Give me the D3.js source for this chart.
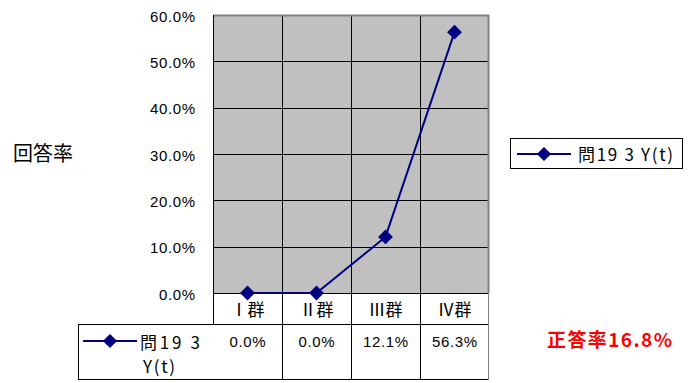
<!DOCTYPE html>
<html><head><meta charset="utf-8">
<script src="https://cdn.jsdelivr.net/npm/d3@7"></script>
<style>body{margin:0;background:#fff}svg{display:block}</style>
</head><body>
<svg id="c" width="698" height="383"></svg>
<script>
const categories = ["Ⅰ群","Ⅱ群","Ⅲ群","Ⅳ群"];
const values = [0.0, 0.0, 0.121, 0.563];
const valueLabels = ["0.0%","0.0%","12.1%","56.3%"];
const yTicks = [0,0.1,0.2,0.3,0.4,0.5,0.6];
const seriesName = "問19 3 Y(t)";
const tableSeriesLines = ["問19 3","Y(t)"];
const yTitle = "回答率";
const note = "正答率16.8%";

const svg = d3.select("#c");
const FONT = "'Liberation Sans','Noto Sans CJK JP',sans-serif";
const JFONT = "'Noto Sans CJK JP',sans-serif";
const L=213,R=489,T=15,B=293;
const x = d3.scaleBand().domain(categories).range([L,R]);
const y = d3.scaleLinear().domain([0,0.6]).range([B,T]);
const navy="#000080";
const fmt = d3.format(".1%");

// plot background
svg.append("rect").attr("x",L).attr("y",T).attr("width",R-L).attr("height",B-T).attr("fill","#c0c0c0");
// horizontal gridlines
svg.append("g").selectAll("line").data(yTicks.slice(1,-1)).join("line")
  .attr("x1",L).attr("x2",R).attr("y1",d=>Math.round(y(d))+0.5).attr("y2",d=>Math.round(y(d))+0.5)
  .attr("stroke","#000").attr("stroke-width",1);
// vertical gridlines (category boundaries) through plot and table
svg.append("g").selectAll("line").data(categories.slice(1)).join("line")
  .attr("x1",d=>Math.round(x(d))+0.5).attr("x2",d=>Math.round(x(d))+0.5)
  .attr("y1",T).attr("y2",380).attr("stroke","#000");
// plot border top/right gray
svg.append("path").attr("d",`M${L},${T+0.5}H${R-0.5}V${B}`).attr("fill","none").attr("stroke","#808080").attr("stroke-width",2);
// left axis line
svg.append("line").attr("x1",L+0.5).attr("x2",L+0.5).attr("y1",T).attr("y2",324).attr("stroke","#000");
// y axis labels
const yAxis = d3.axisLeft(y).tickValues(yTicks).tickFormat(fmt).tickSize(0).tickPadding(0);
const ga = svg.append("g").attr("transform",`translate(195,0)`).call(yAxis);
ga.select(".domain").remove();
ga.selectAll("text").attr("font-family",FONT).attr("font-size",15).attr("fill","#000")
  .attr("textLength",d=>fmt(d).length*9).attr("lengthAdjust","spacing").attr("dy","0.4em");
// y title
svg.append("text").attr("x",13).attr("y",161).attr("font-family",JFONT).attr("font-size",20).text(yTitle);

// table
const tb = svg.append("g").attr("stroke","#000").attr("fill","none");
tb.append("line").attr("x1",L).attr("x2",R).attr("y1",B+0.5).attr("y2",B+0.5);
tb.append("line").attr("x1",78).attr("x2",R).attr("y1",324.5).attr("y2",324.5);
tb.append("line").attr("x1",78).attr("x2",R).attr("y1",379.5).attr("y2",379.5);
tb.append("line").attr("x1",78.5).attr("x2",78.5).attr("y1",324).attr("y2",380);
tb.append("line").attr("x1",R-0.5).attr("x2",R-0.5).attr("y1",B).attr("y2",380).attr("stroke","#808080");
// header labels
svg.append("g").selectAll("text").data(categories).join("text")
  .attr("x",d=>x(d)+x.bandwidth()/2).attr("y",316).attr("text-anchor","middle")
  .attr("font-family",JFONT).attr("font-size",17).text(d=>d);
// values
svg.append("g").selectAll("text").data(valueLabels).join("text")
  .attr("x",(d,i)=>x(categories[i])+x.bandwidth()/2).attr("y",347).attr("text-anchor","middle")
  .attr("font-family",FONT).attr("font-size",15)
  .attr("textLength",d=>d.length*9).attr("lengthAdjust","spacing").text(d=>d);
// series key
function key(g,x0,x1,yy){
  g.append("line").attr("x1",x0).attr("x2",x1).attr("y1",yy).attr("y2",yy).attr("stroke",navy).attr("stroke-width",2);
  g.append("path").attr("d",d3.symbol().type(d3.symbolSquare).size(100)()).attr("transform",`translate(${(x0+x1)/2},${yy}) rotate(45)`).attr("fill",navy);
}
key(svg.append("g"),83,137,341);
svg.append("text").attr("x",140).attr("y",349).attr("font-family",JFONT).attr("font-size",17)
  .attr("textLength",60).attr("lengthAdjust","spacing").text(tableSeriesLines[0]);
svg.append("text").attr("x",143).attr("y",373).attr("font-family",JFONT).attr("font-size",17)
  .attr("textLength",32).attr("lengthAdjust","spacing").text(tableSeriesLines[1]);

// line series
const pts = categories.map((c,i)=>[x(c)+x.bandwidth()/2, y(values[i])]);
svg.append("path").attr("d",d3.line()(pts)).attr("fill","none").attr("stroke",navy).attr("stroke-width",2);
svg.append("g").selectAll("path").data(pts).join("path")
  .attr("d",d3.symbol().type(d3.symbolSquare).size(110)())
  .attr("transform",d=>`translate(${d[0]},${d[1]}) rotate(45)`).attr("fill",navy);

// legend
svg.append("rect").attr("x",510.5).attr("y",138.5).attr("width",172).attr("height",30).attr("fill","#fff").attr("stroke","#000");
key(svg.append("g"),517,571,154);
svg.append("text").attr("x",578).attr("y",161).attr("font-family",JFONT).attr("font-size",17)
  .attr("textLength",95).attr("lengthAdjust","spacing").text(seriesName);

// note
svg.append("text").attr("x",547).attr("y",347).attr("font-family",JFONT).attr("font-weight","bold").attr("font-size",19).attr("fill","#ff0000")
  .attr("textLength",125).attr("lengthAdjust","spacing").text(note);
</script>
</body></html>
